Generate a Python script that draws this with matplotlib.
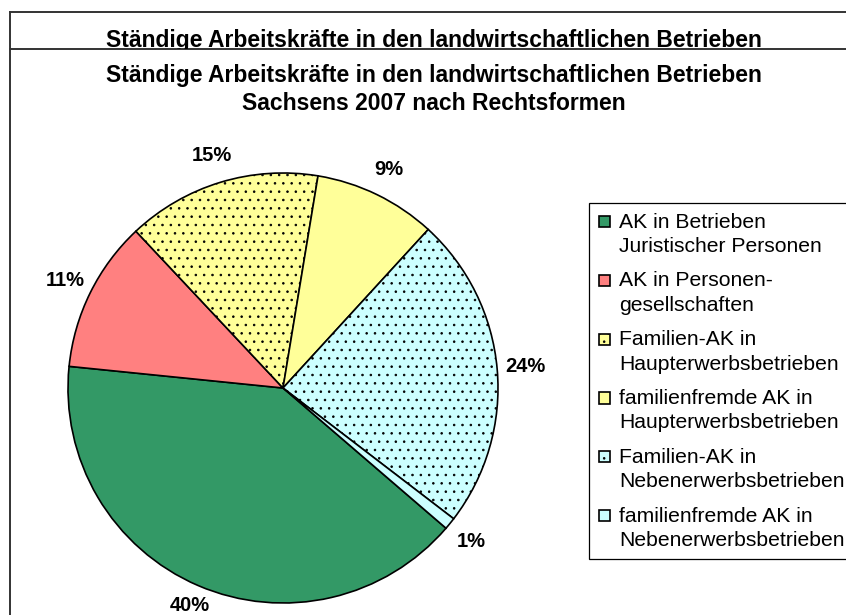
import matplotlib
matplotlib.use("Agg")
import matplotlib.pyplot as plt
import matplotlib.patches as mpatches
from matplotlib.legend_handler import HandlerPatch
from matplotlib.lines import Line2D
from matplotlib.transforms import Bbox, TransformedBbox

plt.rcParams['font.family'] = ['Liberation Sans', 'DejaVu Sans']
plt.rcParams['hatch.linewidth'] = 0.6

# data
title_1 = "Ständige Arbeitskräfte in den landwirtschaftlichen Betrieben"
title_2 = "Sachsens 2007 nach Rechtsformen"
categories = [
    "AK in Betrieben\nJuristischer Personen",
    "AK in Personen-\ngesellschaften",
    "Familien-AK in\nHaupterwerbsbetrieben",
    "familienfremde AK in\nHaupterwerbsbetrieben",
    "Familien-AK in\nNebenerwerbsbetrieben",
    "familienfremde AK in\nNebenerwerbsbetrieben",
]
shares = [40.3, 11.4, 14.6, 9.2, 23.6, 0.9]
colors = ["#339966", "#FF8080", "#FFFF99", "#FFFF99", "#CCFFFF", "#CCFFFF"]
hatches = [None, None, "..", None, "..", None]

W, H = 846, 615
fig = plt.figure(figsize=(W / 100, H / 100), dpi=100)

# pie area (centre 283/388, radius 215 px)
cx, cy, r = 283, 388, 215
ax = fig.add_axes([(cx - r) / W, (H - cy - r) / H, 2 * r / W, 2 * r / H])
wedges, _, autotexts = ax.pie(
    shares, colors=colors, startangle=-40.7, counterclock=False,
    autopct="%.0f%%", pctdistance=1.13,
    wedgeprops=dict(edgecolor="black", linewidth=1.2),
    textprops=dict(fontsize=14.5, fontweight="bold", color="black"),
)
for w, h in zip(wedges, hatches):
    if h:
        w.set_hatch(h)
# the bottom label sits a bit closer so it stays inside the picture
x0, y0 = autotexts[0].get_position()
autotexts[0].set_position((x0 * 1.1 / 1.13, y0 * 1.1 / 1.13))
ax.set_xlim(-1, 1)
ax.set_ylim(-1, 1)

LEG_FS = 15.2


# legend boxes sit next to the first text line
def top_box(legend, orig_handle, xdescent, ydescent, width, height, fontsize):
    s = 0.53 * fontsize
    y0 = -ydescent + height / 2 + 0.6 * fontsize - s / 2
    return mpatches.Rectangle((-xdescent, y0), s, s)


leg = fig.legend(
    wedges, categories, loc="upper left",
    bbox_to_anchor=(589 / W, 1 - 203 / H),
    prop=dict(size=LEG_FS), frameon=True, fancybox=False,
    edgecolor="black", framealpha=1, borderpad=0.45,
    handlelength=0.55, handleheight=0.6, handletextpad=0.42,
    labelspacing=0.73, borderaxespad=0,
    handler_map={mpatches.Wedge: HandlerPatch(patch_func=top_box)},
)
leg.get_frame().set_linewidth(0.9)
for t in leg.get_texts():
    t.set_linespacing(1.36)

# chart frame lines
fy_top = 1 - 12 / H
fy_mid = 1 - 48.5 / H
fx_left = 10 / W
for xs, ys in [([fx_left, 1], [fy_top, fy_top]),
               ([fx_left, 1], [fy_mid, fy_mid]),
               ([fx_left, fx_left], [0, fy_top])]:
    fig.add_artist(Line2D(xs, ys, transform=fig.transFigure,
                          color="#333333", linewidth=1.4))

# leftover title, cut off by the frame line
t0 = fig.text(434 / W, 1 - 47 / H, title_1, ha="center", va="baseline",
              fontsize=16.5, fontweight="bold", clip_on=True)
t0.set_clip_box(TransformedBbox(Bbox([[0, fy_mid], [1, 1]]), fig.transFigure))

fig.text(434 / W, 1 - 82 / H, title_1, ha="center", va="baseline",
         fontsize=16.5, fontweight="bold")
fig.text(434 / W, 1 - 110 / H, title_2, ha="center", va="baseline",
         fontsize=16.5, fontweight="bold")

fig.savefig("out.png", dpi=100)
